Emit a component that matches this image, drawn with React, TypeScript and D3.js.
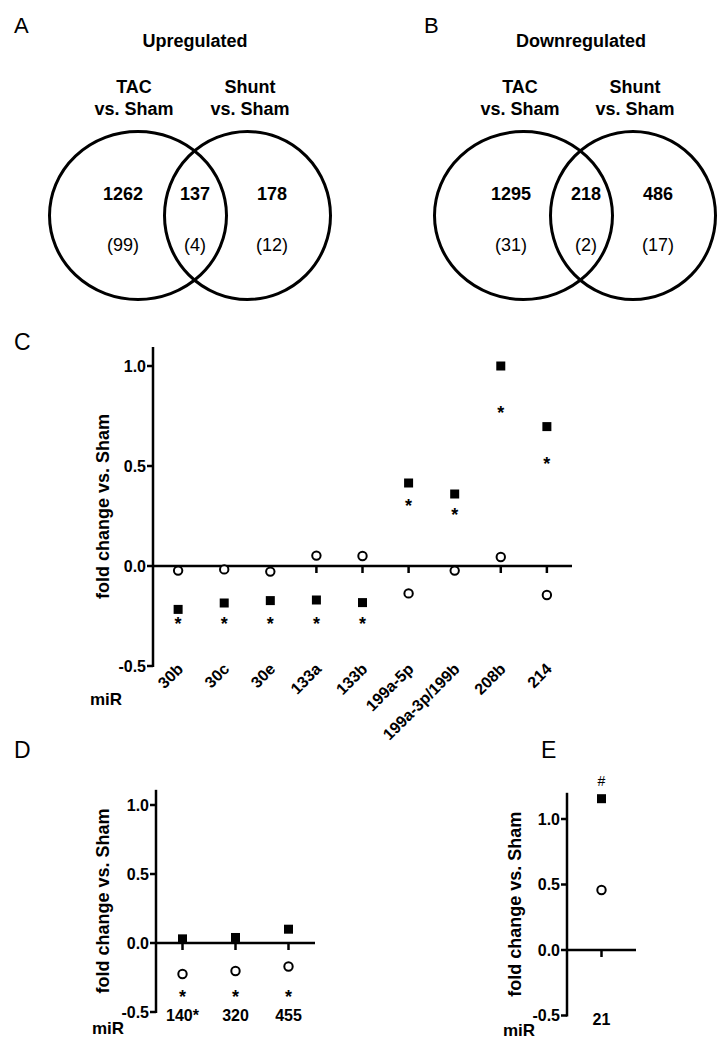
import React from "react";
import * as d3 from "d3";

// ---------- Data ----------
const vennTitles = ["Upregulated", "Downregulated"];
const vennSetNames = ["TAC", "Shunt"];
const upCounts = [1262, 137, 178];
const upParen = [99, 4, 12];
const downCounts = [1295, 218, 486];
const downParen = [31, 2, 17];

const cCategories = ["30b", "30c", "30e", "133a", "133b", "199a-5p", "199a-3p/199b", "208b", "214"];
const cSquares = [-0.217, -0.185, -0.173, -0.17, -0.183, 0.415, 0.36, 1.0, 0.697];
const cCircles = [-0.023, -0.017, -0.028, 0.052, 0.05, -0.137, -0.023, 0.045, -0.145];
const cStars = [-0.27, -0.27, -0.27, -0.27, -0.27, 0.32, 0.275, 0.785, 0.53];

const dCategories = ["140*", "320", "455"];
const dSquares = [0.03, 0.04, 0.1];
const dCircles = [-0.225, -0.203, -0.17];
const dStars = [-0.365, -0.365, -0.365];

const eCategories = ["21"];
const eSquares = [1.155];
const eCircles = [0.458];
const eHash = [1.29];

const yTicks = [-0.5, 0.0, 0.5, 1.0];

const FONT = "'Liberation Sans', Arial, Helvetica, sans-serif";
const fmt = (t: number) => d3.format(".1f")(t).replace("\u2212", "-");

type PanelProps = {
  cats: string[];
  squares: number[];
  circles: number[];
  marks: number[];
  markChar: string;
  xRange: [number, number];
  padding: number;
  yRange: [number, number];
  yTop: number;
  titleX: number;
  rotated: boolean;
  labelY: number;
  miR: [number, number];
};

function Scatter(p: PanelProps) {
  const x = d3.scalePoint<string>().domain(p.cats).range(p.xRange).padding(p.padding);
  const y = d3.scaleLinear().domain([-0.5, 1.0]).range(p.yRange);
  const ax = p.xRange[0];
  const yTopPx = y(p.yTop);
  const yBot = y(-0.5);
  const y0 = y(0);
  const sq = 9;
  return (
    <g fontFamily={FONT}>
      <line x1={ax} x2={ax} y1={yTopPx} y2={yBot + 1} stroke="#000" strokeWidth={2.5} />
      {yTicks.map((t) => (
        <g key={t}>
          <line x1={ax - 6} x2={ax} y1={y(t)} y2={y(t)} stroke="#000" strokeWidth={2.5} />
          <text x={ax - 7} y={y(t) + 5.5} textAnchor="end" fontSize={16} fontWeight="bold">
            {fmt(t)}
          </text>
        </g>
      ))}
      <line x1={ax} x2={p.xRange[1]} y1={y0} y2={y0} stroke="#000" strokeWidth={2.5} />
      {p.cats.map((c) => (
        <line key={c} x1={x(c)} x2={x(c)} y1={y0} y2={y0 + 7} stroke="#000" strokeWidth={2.5} />
      ))}
      <text
        transform={`translate(${p.titleX},${(yTopPx + yBot) / 2}) rotate(-90)`}
        textAnchor="middle"
        fontSize={18}
        fontWeight="bold"
      >
        fold change vs. Sham
      </text>
      {p.cats.map((c) =>
        p.rotated ? (
          <text
            key={c}
            transform={`translate(${(x(c) as number) + 6},${p.labelY}) rotate(-45)`}
            textAnchor="end"
            fontSize={16}
            fontWeight="bold"
          >
            {c}
          </text>
        ) : (
          <text key={c} x={x(c)} y={p.labelY} textAnchor="middle" fontSize={16} fontWeight="bold">
            {c}
          </text>
        )
      )}
      <text x={p.miR[0]} y={p.miR[1]} fontSize={17} fontWeight="bold">
        miR
      </text>
      {p.circles.map((v, i) => (
        <circle key={i} cx={x(p.cats[i])} cy={y(v)} r={4.2} fill="#fff" stroke="#000" strokeWidth={2} />
      ))}
      {p.squares.map((v, i) => (
        <rect key={i} x={(x(p.cats[i]) as number) - sq / 2} y={y(v) - sq / 2} width={sq} height={sq} fill="#000" />
      ))}
      {p.marks.map((v, i) =>
        p.markChar === "*" ? (
          <text key={i} x={x(p.cats[i])} y={y(v) + 9.5} textAnchor="middle" fontSize={18} fontWeight="bold">
            *
          </text>
        ) : (
          <text key={i} x={x(p.cats[i])} y={y(v) + 5} textAnchor="middle" fontSize={14}>
            {p.markChar}
          </text>
        )
      )}
    </g>
  );
}

type VennProps = {
  letter: string;
  letterX: number;
  title: string;
  titleX: number;
  circles: { cx: number; rx: number }[];
  nameX: number[];
  counts: number[];
  paren: number[];
  numX: number[];
};

function Venn(v: VennProps) {
  return (
    <g fontFamily={FONT}>
      <text x={v.letterX} y={33} fontSize={22}>
        {v.letter}
      </text>
      <text x={v.titleX} y={47} textAnchor="middle" fontSize={18} fontWeight="bold">
        {v.title}
      </text>
      {vennSetNames.map((n, i) => (
        <g key={n}>
          <text x={v.nameX[i]} y={93} textAnchor="middle" fontSize={18} fontWeight="bold">
            {n}
          </text>
          <text x={v.nameX[i]} y={115} textAnchor="middle" fontSize={18} fontWeight="bold">
            vs. Sham
          </text>
        </g>
      ))}
      {v.circles.map((c, i) => (
        <ellipse key={i} cx={c.cx} cy={215.5} rx={c.rx} ry={84} fill="none" stroke="#000" strokeWidth={3} />
      ))}
      {v.counts.map((c, i) => (
        <text key={i} x={v.numX[i]} y={200} textAnchor="middle" fontSize={18} fontWeight="bold">
          {c}
        </text>
      ))}
      {v.paren.map((c, i) => (
        <text key={i} x={v.numX[i]} y={251} textAnchor="middle" fontSize={18}>
          ({c})
        </text>
      ))}
    </g>
  );
}

export default function App() {
  return (
    <svg
      width={726}
      height={1050}
      style={{ position: "absolute", left: 0, top: 0, background: "#fff" }}
    >
      <rect width={726} height={1050} fill="#fff" />
      <Venn
        letter="A"
        letterX={14}
        title={vennTitles[0]}
        titleX={195}
        circles={[
          { cx: 138, rx: 88.5 },
          { cx: 247.5, rx: 83 },
        ]}
        nameX={[134, 250]}
        counts={upCounts}
        paren={upParen}
        numX={[123, 195, 272]}
      />
      <Venn
        letter="B"
        letterX={424}
        title={vennTitles[1]}
        titleX={581}
        circles={[
          { cx: 523.5, rx: 89 },
          { cx: 633, rx: 82.5 },
        ]}
        nameX={[520, 635]}
        counts={downCounts}
        paren={downParen}
        numX={[511, 586, 658]}
      />
      <text x={14} y={350} fontSize={23} fontFamily={FONT}>
        C
      </text>
      <Scatter
        cats={cCategories}
        squares={cSquares}
        circles={cCircles}
        marks={cStars}
        markChar="*"
        xRange={[153, 572]}
        padding={0.545}
        yRange={[666, 366]}
        yTop={1.095}
        titleX={109}
        rotated={true}
        labelY={670}
        miR={[90, 705]}
      />
      <text x={14} y={758} fontSize={23} fontFamily={FONT}>
        D
      </text>
      <Scatter
        cats={dCategories}
        squares={dSquares}
        circles={dCircles}
        marks={dStars}
        markChar="*"
        xRange={[156, 315]}
        padding={0.5}
        yRange={[1012, 805]}
        yTop={1.11}
        titleX={109}
        rotated={false}
        labelY={1021}
        miR={[92, 1034]}
      />
      <text x={541} y={758} fontSize={23} fontFamily={FONT}>
        E
      </text>
      <Scatter
        cats={eCategories}
        squares={eSquares}
        circles={eCircles}
        marks={eHash}
        markChar="#"
        xRange={[567, 636]}
        padding={0.5}
        yRange={[1015.5, 819]}
        yTop={1.2}
        titleX={521}
        rotated={false}
        labelY={1025}
        miR={[503, 1036]}
      />
    </svg>
  );
}
